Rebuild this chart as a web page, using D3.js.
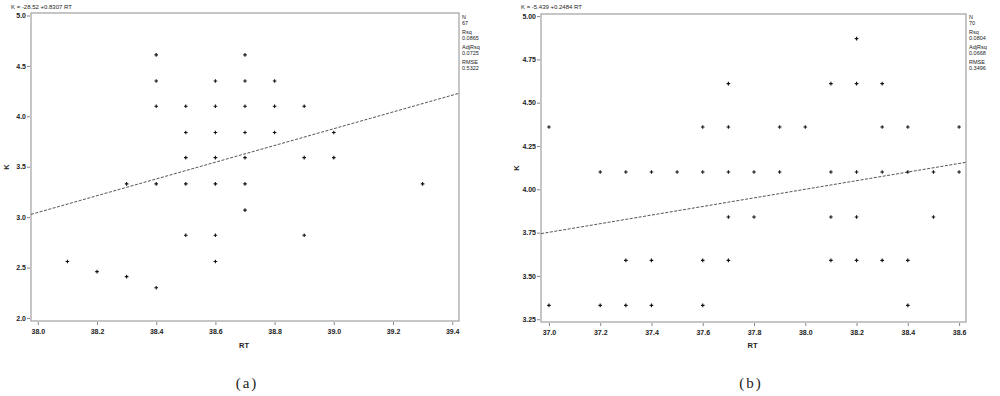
<!DOCTYPE html>
<html lang="en">
<head>
<meta charset="UTF-8">
<title>K vs RT</title>
<script src="https://d3js.org/d3.v7.min.js"></script>
<style>
    body { margin: 0; background: #fff; }
    svg text { font-family: "Liberation Sans", Arial, sans-serif; fill: #222; }
    .tick text { font-size: 7px; font-weight: bold; }
    .stat { font-size: 5.5px; }
    .caption { font-family: "Liberation Serif", "DejaVu Serif", serif; font-size: 15px; }
</style>
</head>
<body>
<div id="chart"></div>
<script>
// panel (a)
const rtA = [38.4, 38.7,
    38.4, 38.6, 38.7, 38.8,
    38.4, 38.5, 38.6, 38.7, 38.8, 38.9,
    38.5, 38.6, 38.7, 38.8, 39.0,
    38.5, 38.6, 38.7, 38.9, 39.0,
    38.3, 38.4, 38.5, 38.6, 38.7, 39.3,
    38.7,
    38.5, 38.6, 38.9,
    38.1, 38.6,
    38.2, 38.3, 38.4];
const kA = [4.61, 4.61,
    4.35, 4.35, 4.35, 4.35,
    4.10, 4.10, 4.10, 4.10, 4.10, 4.10,
    3.84, 3.84, 3.84, 3.84, 3.84,
    3.59, 3.59, 3.59, 3.59, 3.59,
    3.33, 3.33, 3.33, 3.33, 3.33, 3.33,
    3.07,
    2.82, 2.82, 2.82,
    2.56, 2.56,
    2.46, 2.41, 2.30];
const xTicksA = [38.0, 38.2, 38.4, 38.6, 38.8, 39.0, 39.2, 39.4];
const yTicksA = [2.0, 2.5, 3.0, 3.5, 4.0, 4.5, 5.0];
const fitA = [-28.52, 0.8307];
const statsA = ["N", "67", "Rsq", "0.0865", "AdjRsq", "0.0725", "RMSE", "0.5322"];

// panel (b)
const rtB = [38.2,
    37.7, 38.1, 38.2, 38.3,
    37.0, 37.6, 37.7, 37.9, 38.0, 38.3, 38.4, 38.6,
    37.2, 37.3, 37.4, 37.5, 37.6, 37.7, 37.8, 37.9, 38.1, 38.2, 38.3, 38.4, 38.5, 38.6,
    37.7, 37.8, 38.1, 38.2, 38.5,
    37.3, 37.4, 37.6, 37.7, 38.1, 38.2, 38.3, 38.4,
    37.0, 37.2, 37.3, 37.4, 37.6, 38.4];
const kB = [4.87,
    4.61, 4.61, 4.61, 4.61,
    4.36, 4.36, 4.36, 4.36, 4.36, 4.36, 4.36, 4.36,
    4.10, 4.10, 4.10, 4.10, 4.10, 4.10, 4.10, 4.10, 4.10, 4.10, 4.10, 4.10, 4.10, 4.10,
    3.84, 3.84, 3.84, 3.84, 3.84,
    3.59, 3.59, 3.59, 3.59, 3.59, 3.59, 3.59, 3.59,
    3.33, 3.33, 3.33, 3.33, 3.33, 3.33];
const xTicksB = [37.0, 37.2, 37.4, 37.6, 37.8, 38.0, 38.2, 38.4, 38.6];
const yTicksB = [3.25, 3.50, 3.75, 4.00, 4.25, 4.50, 4.75, 5.00];
const fitB = [-5.439, 0.2484];
const statsB = ["N", "70", "Rsq", "0.0804", "AdjRsq", "0.0668", "RMSE", "0.3496"];

const svg = d3.select("#chart").append("svg")
    .attr("width", 1000)
    .attr("height", 396);

function drawPanel(opt) {
    const g = svg.append("g");
    const x = d3.scaleLinear().domain(opt.xDomain).range([opt.left, opt.right]);
    const y = d3.scaleLinear().domain(opt.yDomain).range([opt.bottom, opt.top]);

    // frame
    g.append("rect")
        .attr("x", opt.left).attr("y", opt.top)
        .attr("width", opt.right - opt.left)
        .attr("height", opt.bottom - opt.top)
        .attr("fill", "none")
        .attr("stroke", "#a0a0a0")
        .attr("stroke-width", 1.2);

    const xAxis = g.append("g")
        .attr("transform", `translate(0,${opt.bottom + 1})`)
        .call(d3.axisBottom(x).tickValues(opt.xTicks).tickFormat(d3.format(".1f")).tickSize(3).tickSizeOuter(0));
    xAxis.select(".domain").remove();
    xAxis.selectAll(".tick line").attr("stroke", "#888");
    xAxis.selectAll(".tick text").attr("dy", "0.9em");

    const yAxis = g.append("g")
        .attr("transform", `translate(${opt.left - 1},0)`)
        .call(d3.axisLeft(y).tickValues(opt.yTicks).tickFormat(d3.format(opt.yFmt)).tickSize(3).tickSizeOuter(0));
    yAxis.select(".domain").remove();
    yAxis.selectAll(".tick line").attr("stroke", "#888");
    yAxis.selectAll(".tick text").attr("x", -4);

    // fitted line
    const clip = "clip" + opt.id;
    g.append("clipPath").attr("id", clip)
        .append("rect")
        .attr("x", opt.left).attr("y", opt.top)
        .attr("width", opt.right - opt.left)
        .attr("height", opt.bottom - opt.top);
    const f = v => opt.fit[0] + opt.fit[1] * v;
    g.append("line")
        .attr("clip-path", `url(#${clip})`)
        .attr("x1", x(opt.xDomain[0])).attr("y1", y(f(opt.xDomain[0])))
        .attr("x2", x(opt.xDomain[1])).attr("y2", y(f(opt.xDomain[1])))
        .attr("stroke", "#555")
        .attr("stroke-width", 1)
        .attr("stroke-dasharray", "3,1.5");

    // points
    const pts = opt.rt.map((v, i) => ({ rt: v, k: opt.k[i] }));
    g.selectAll(".pt")
        .data(pts)
        .join("path")
        .attr("class", "pt")
        .attr("transform", d => `translate(${x(d.rt)},${y(d.k)})`)
        .attr("d", "M-1.8,0H1.8M0,-1.8V1.8")
        .attr("stroke", "#111")
        .attr("stroke-width", 1.1);

    // title
    g.append("text")
        .attr("x", opt.left - 20).attr("y", 9)
        .attr("font-size", 6)
        .text(opt.title);

    // stats
    g.selectAll(".stat")
        .data(opt.stats)
        .join("text")
        .attr("class", "stat")
        .attr("x", opt.right + 3)
        .attr("y", (d, i) => 19 + Math.floor(i / 2) * 15 + (i % 2) * 5.5)
        .text(d => d);

    // axis labels
    g.append("text")
        .attr("x", (opt.left + opt.right) / 2 + opt.rtShift)
        .attr("y", 348)
        .attr("text-anchor", "middle")
        .attr("font-size", 7.5)
        .attr("font-weight", "bold")
        .text("RT");
    g.append("text")
        .attr("transform", `translate(${opt.left - 22},${(opt.top + opt.bottom) / 2}) rotate(-90)`)
        .attr("text-anchor", "middle")
        .attr("font-size", 7.5)
        .attr("font-weight", "bold")
        .text("K");

    g.append("text")
        .attr("class", "caption")
        .attr("x", opt.captionX).attr("y", 388)
        .attr("text-anchor", "middle")
        .attr("letter-spacing", "2px")
        .text(opt.caption);
}

drawPanel({
    id: "a", rt: rtA, k: kA,
    xDomain: [37.977, 39.423], yDomain: [1.97, 5.025],
    left: 31, right: 459, top: 13, bottom: 321,
    xTicks: xTicksA, yTicks: yTicksA, yFmt: ".1f",
    fit: fitA, stats: statsA,
    title: "K = -28.52 +0.8307 RT",
    caption: "(a)", captionX: 247, rtShift: -1
});

drawPanel({
    id: "b", rt: rtB, k: kB,
    xDomain: [36.969, 38.627], yDomain: [3.234, 5.012],
    left: 541, right: 966, top: 14, bottom: 322,
    xTicks: xTicksB, yTicks: yTicksB, yFmt: ".2f",
    fit: fitB, stats: statsB,
    title: "K = -5.439 +0.2484 RT",
    caption: "(b)", captionX: 751, rtShift: -1
});
</script>
</body>
</html>
